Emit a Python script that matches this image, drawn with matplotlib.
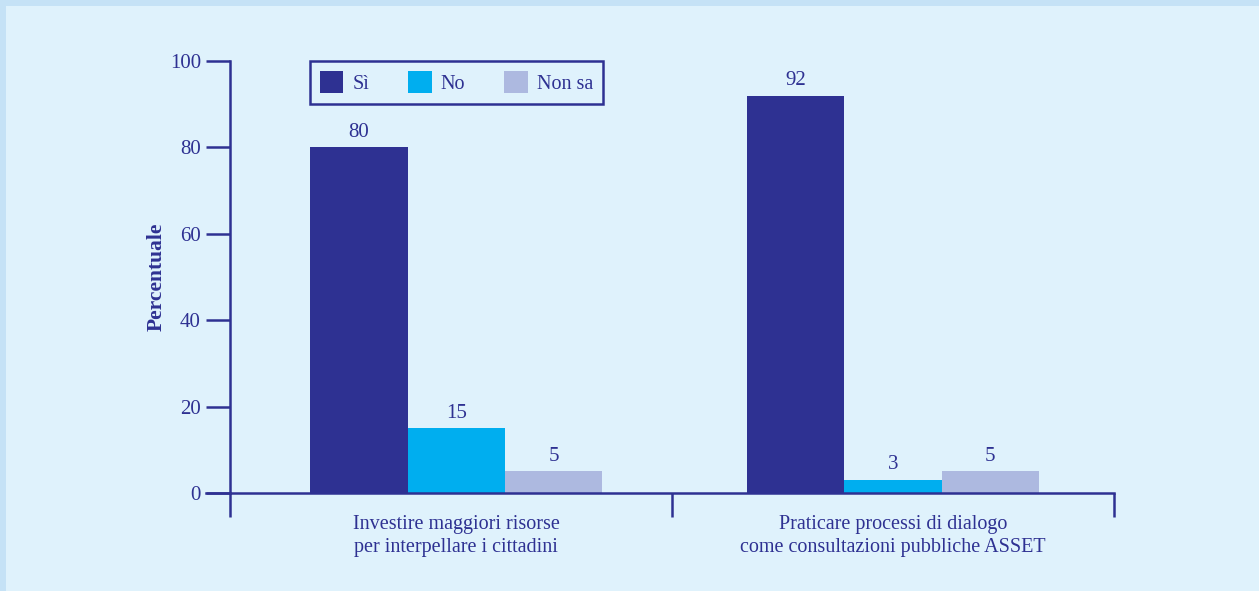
#!/usr/bin/env python3
"""
Grouped bar chart: share of respondents (Sì / No / Non sa) for two proposals
"""

import matplotlib
matplotlib.use('Agg')
import matplotlib.pyplot as plt
from matplotlib.patches import Rectangle
import numpy as np

# Data
categories = ['Investire maggiori risorse\nper interpellare i cittadini',
              'Praticare processi di dialogo\ncome consultazioni pubbliche ASSET']
series_names = ['Sì', 'No', 'Non sa']
si_values = [80, 92]
no_values = [15, 3]
nonsa_values = [5, 5]
y_ticks = [0, 20, 40, 60, 80, 100]

TEXT = '#2e3192'
COLORS = ['#2e3192', '#00aeef', '#adb9e0']
BG = '#dff2fc'
EDGE_BAND = '#c5e2f6'

plt.rcParams['font.family'] = ['Liberation Serif', 'DejaVu Serif']

W, H = 1259, 591
fig = plt.figure(figsize=(W / 100, H / 100), dpi=100)
fig.patch.set_facecolor(BG)

# light band along the top and left edge
fig.patches.append(Rectangle((0, 1 - 6 / H), 1, 6 / H, transform=fig.transFigure,
                             facecolor=EDGE_BAND, edgecolor='none', zorder=0))
fig.patches.append(Rectangle((0, 0), 6 / W, 1, transform=fig.transFigure,
                             facecolor=EDGE_BAND, edgecolor='none', zorder=0))

left, right, top, bottom = 230, 1114, 61, 493
ax = fig.add_axes([left / W, (H - bottom) / H, (right - left) / W, (bottom - top) / H])
ax.set_facecolor(BG)

x = np.arange(len(categories))
width = 0.22
series = [si_values, no_values, nonsa_values]
group_shift = np.array([0.012, 0.0])

for i, (name, vals, col) in enumerate(zip(series_names, series, COLORS)):
    pos = x + (i - 1) * width + group_shift
    bars = ax.bar(pos, vals, width=width, color=col, label=name, zorder=2)
    for b, v in zip(bars, vals):
        ax.annotate(f'{v}', (b.get_x() + b.get_width() / 2, v),
                    xytext=(0, 4), textcoords='offset points',
                    ha='center', va='bottom', fontsize=15, color=TEXT)

ax.set_xlim(-0.5, 1.5)
ax.set_ylim(0, 100)

# spines
for s in ['top', 'right']:
    ax.spines[s].set_visible(False)
for s in ['left', 'bottom']:
    ax.spines[s].set_color(TEXT)
    ax.spines[s].set_linewidth(1.8)

# y axis
ax.set_yticks(y_ticks)
ax.tick_params(axis='y', direction='out', length=17, width=1.8, color=TEXT,
               labelcolor=TEXT, labelsize=15, pad=4)
ax.set_ylabel('Percentuale', fontsize=15.5, fontweight='bold', color=TEXT, labelpad=2)

# x axis: separators at group boundaries, labels at group centres
ax.set_xticks([-0.5, 0.5, 1.5])
ax.set_xticklabels([])
ax.tick_params(axis='x', which='major', direction='out', length=17, width=1.8, color=TEXT)
ax.set_xticks(x + group_shift, minor=True)
ax.set_xticklabels(categories, minor=True, fontsize=14.5, color=TEXT, linespacing=1.3)
ax.tick_params(axis='x', which='minor', length=0, pad=16)

# zero line extends left to the tick
ax.axhline(0, xmin=-24 / (right - left), xmax=0, color=TEXT, lw=1.8, clip_on=False)

leg = ax.legend(loc='upper left', bbox_to_anchor=((310 - left) / (right - left), 1.0),
                borderaxespad=0, ncol=3, frameon=True, fancybox=False, fontsize=14.5,
                framealpha=1, handlelength=1.15, handleheight=1.3, columnspacing=1.95,
                borderpad=0.5, handletextpad=0.45)
leg.get_frame().set_edgecolor(TEXT)
leg.get_frame().set_linewidth(1.8)
leg.get_frame().set_facecolor(BG)
for t in leg.get_texts():
    t.set_color(TEXT)

fig.savefig('out.png', dpi=100, facecolor=fig.get_facecolor())
